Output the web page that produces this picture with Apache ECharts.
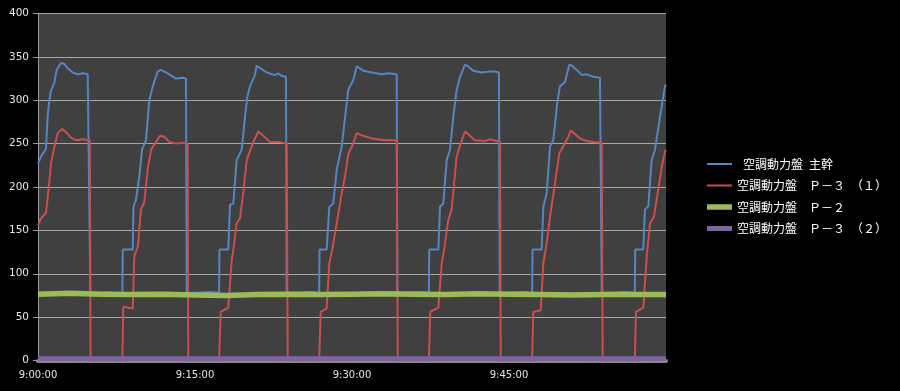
<!DOCTYPE html>
<html>
<head>
<meta charset="utf-8">
<script src="https://cdn.jsdelivr.net/npm/echarts@6/dist/echarts.min.js"></script>
<style>
html,body{margin:0;padding:0;background:#000;}
#c{width:900px;height:391px;}
</style>
</head>
<body>
<div id="c"></div>
<script>
// x = minutes after 9:00:00
const seriesNames = ['\u2002空調動力盤\u2002主幹', '空調動力盤　Ｐ－３　（１）', '空調動力盤　Ｐ－２', '空調動力盤　Ｐ－３　（２）'];
const xTickLabels = ['9:00:00', '9:15:00', '9:30:00', '9:45:00'];
const yTicks = [0, 50, 100, 150, 200, 250, 300, 350, 400];

const mainTrunk = [
[0.00,227],[0.29,235],[0.76,244],[0.92,281],[1.08,300],[1.24,311],[1.56,320],[1.78,335],[2.20,343],[2.51,342],[2.83,337],[3.31,332],[3.79,330],[4.27,331],[4.75,330],[4.94,330],[5.00,78],
[5.8,78],[6.6,79],[7.4,78],
[8.06,78],[8.10,128],[9.05,128],[9.12,177],[9.36,185],[9.68,212],[9.94,243],[10.32,254],[10.63,300],[10.96,316],[11.44,333],[11.75,335],[12.39,331],[13.18,325],[13.82,326],[14.14,325],[14.21,78],
[15.2,78],[16.3,79],
[17.30,78],[17.34,128],[18.18,128],[18.34,179],[18.66,181],[18.98,231],[19.46,243],[19.78,281],[20.00,304],[20.25,316],[20.73,329],[20.89,340],[21.21,337],[21.85,332],[22.64,329],[22.96,331],[23.28,328],[23.69,327],[23.76,78],
[24.8,78],[25.9,79],
[26.86,78],[26.90,128],[27.58,128],[27.83,177],[28.21,181],[28.54,220],[29.02,247],[29.33,280],[29.65,312],[29.81,316],[30.12,323],[30.45,339],[30.60,340],[31.08,334],[31.88,332],[32.84,330],[33.47,331],[34.27,330],[34.33,78],
[35.3,78],[36.4,79],
[37.34,78],[37.38,128],[38.25,128],[38.41,177],[38.72,181],[39.05,231],[39.36,243],[39.68,281],[40.00,312],[40.32,327],[40.80,341],[41.11,339],[41.59,334],[42.39,332],[43.02,333],[43.66,333],[44.04,332],[44.11,78],
[45.2,78],[46.3,79],
[47.21,78],[47.25,128],[48.12,128],[48.28,177],[48.60,193],[48.92,247],[49.23,254],[49.61,297],[49.87,316],[50.35,321],[50.76,341],[50.99,340],[51.47,335],[51.95,329],[52.42,330],[53.05,327],[53.69,326],[53.86,78],
[54.9,78],[56.0,79],
[57.02,78],[57.06,128],[57.83,128],[57.99,174],[58.31,178],[58.63,231],[58.95,243],[59.43,281],[59.74,304],[59.90,316],[60,318]
];

const p3_1 = [
[0.00,156],[0.29,164],[0.76,170],[1.00,196],[1.24,227],[1.56,246],[1.88,262],[2.30,267],[2.68,263],[3.15,257],[3.63,254],[4.27,255],[4.95,254],[5.02,0],
[8.06,0],[8.15,62],[9.05,60],[9.20,120],[9.53,131],[9.84,174],[10.16,183],[10.48,220],[10.80,243],[11.27,252],[11.66,259],[12.07,258],[12.54,252],[13.18,250],[13.82,251],[14.30,250],[14.36,0],
[17.30,0],[17.46,56],[18.18,61],[18.51,116],[18.66,127],[18.98,158],[19.30,164],[19.61,193],[19.94,231],[20.42,247],[20.73,256],[21.05,264],[21.53,259],[22.17,252],[22.96,252],[23.76,250],[23.86,0],
[26.86,0],[27.01,56],[27.58,60],[27.83,112],[28.16,131],[28.54,158],[29.02,193],[29.33,212],[29.65,238],[30.12,250],[30.45,262],[30.60,264],[31.08,259],[31.88,256],[33.15,254],[34.27,254],[34.37,0],
[37.34,0],[37.48,56],[38.25,61],[38.57,112],[38.79,127],[39.20,162],[39.52,174],[40.00,235],[40.32,248],[40.80,264],[41.27,259],[41.75,254],[42.71,253],[43.18,255],[44.14,252],[44.21,0],
[47.21,0],[47.32,56],[48.03,58],[48.28,112],[48.60,135],[48.92,166],[49.39,204],[49.81,239],[50.19,247],[50.67,258],[50.89,265],[51.31,261],[51.78,256],[52.42,253],[53.05,252],[53.86,251],[53.95,0],
[57.02,0],[57.13,56],[57.83,61],[58.16,120],[58.47,158],[58.85,166],[59.26,197],[59.59,223],[59.90,241],[60,243]
];

const p2 = [
[0,76.5],[3,77.5],[6,76.5],[9,76],[12,76.5],[15,75.5],[18,75],[21,76],[24,76.5],[27,76],[30,76.5],[33,77],[36,76.5],[39,76],[42,77],[45,76.5],[48,76],[51,75.5],[54,76],[57,76],[60,76]
];

const p3_2 = [
[0,2],[15,2],[30,2],[45,2],[60,2]
];

const colors = ['#5585C2', '#C9504D', '#9BBB59', '#8064A2'];
const widths = [2, 2, 5.5, 5];
const datas = [mainTrunk, p3_1, p2, p3_2];

const chart = echarts.init(document.getElementById('c'), null, {renderer: 'canvas'});
chart.setOption({
  backgroundColor: '#000000',
  animation: false,
  grid: {left: 38, right: 234, top: 13.5, bottom: 30.5, show: true, backgroundColor: '#404040', borderWidth: 0},
  legend: {
    orient: 'vertical', left: 702, top: 153, itemWidth: 25, itemHeight: 14, itemGap: 9.5,
    textStyle: {color: '#ffffff', fontSize: 12, fontFamily: 'Noto Sans CJK JP'},
    data: seriesNames.map((n, i) => ({
      name: n,
      icon: 'path://M0,0 h25 v' + widths[i] + ' h-25 z'
    }))
  },
  xAxis: {
    type: 'value', min: 0, max: 60, interval: 15,
    axisLine: {show: true, lineStyle: {color: '#8c8c8c', width: 4}},
    axisTick: {show: false},
    splitLine: {show: false},
    axisLabel: {
      color: '#e6e6e6', fontSize: 10, fontFamily: 'DejaVu Sans', margin: 10,
      showMaxLabel: false,
      formatter: v => xTickLabels[Math.round(v / 15)] || ''
    }
  },
  yAxis: {
    type: 'value', min: yTicks[0], max: yTicks[yTicks.length - 1], interval: 50,
    axisLine: {show: true, lineStyle: {color: '#9a9a9a', width: 1}},
    axisTick: {show: true, length: 5, lineStyle: {color: '#9a9a9a'}},
    splitLine: {show: true, lineStyle: {color: '#a6a6a6', width: 1}},
    axisLabel: {color: '#e6e6e6', fontSize: 10.5, fontFamily: 'DejaVu Sans', margin: 9}
  },
  series: seriesNames.map((n, i) => ({
    name: n, type: 'line', data: datas[i], symbol: 'none',
    color: colors[i],
    lineStyle: {width: widths[i], color: colors[i]},
    z: 2 + i
  }))
});
</script>
</body>
</html>
